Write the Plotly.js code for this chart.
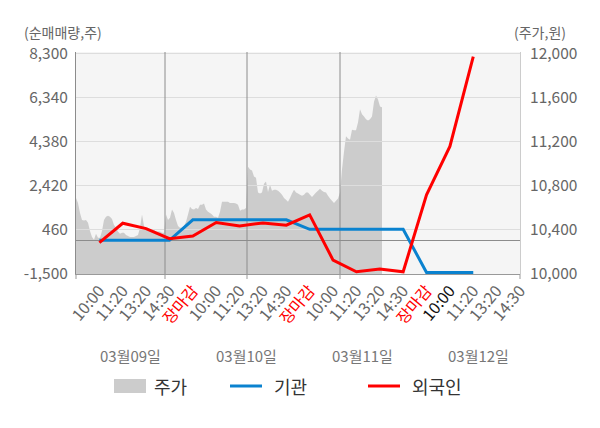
<!DOCTYPE html>
<html>
<head>
<meta charset="utf-8">
<script src="https://cdn.plot.ly/plotly-3.0.1.min.js"></script>
<style>
html,body{margin:0;padding:0;background:#fff;}
#chart{width:600px;height:428px;}
</style>
</head>
<body>
<div id="chart"></div>
<script>
// ---------- data ----------
const timeLabels = ['10:00','11:20','13:20','14:30','장마감',
                    '10:00','11:20','13:20','14:30','장마감',
                    '10:00','11:20','13:20','14:30','장마감',
                    '10:00','11:20','13:20','14:30'];
const dayLabels = ['03월09일','03월10일','03월11일','03월12일'];

// net buying volume (shares)
const institution = [0, 0, 0, 0, 910, 910, 910, 910, 910, 490, 490, 490, 490, 490, -1430, -1430, -1430];
const foreigner   = [-100, 760, 520, 70, 190, 790, 640, 770, 670, 1130, -880, -1400, -1280, -1400, 2020, 4180, 8170];

// stock price (won), intraday samples
const price = [
  10690,10645,10555,10490,10485,10490,10465,10390,10335,10310,10365,10330,10330,10390,10490,10520,10530,10520,10500,10445,
  10420,10385,10365,10375,10375,10355,10345,10335,10335,10335,10345,10355,10420,10540,10435,10400,10400,10390,10385,10400,
  10385,10385,10385,10375,10375,
  10540,10490,10510,10585,10555,10490,10435,10420,10420,10435,10475,10540,10610,10590,10585,10600,10590,10630,10630,10640,
  10585,10565,10555,10540,10520,10520,10510,10565,10655,10655,10655,10655,10645,10645,10645,10640,10630,10575,10585,10585,
  10600,
  10975,10950,10940,10885,10875,10740,10730,10740,10820,10840,10745,10810,10755,10765,10765,10755,10740,10720,10690,10675,
  10655,10690,10730,10765,10740,10730,10720,10710,10720,10740,10740,10720,10700,10720,10740,10755,10775,10755,10745,10740,
  10710,10685,10665,10645,10665,10685,10740,
  10950,11110,11250,11230,11220,11310,11305,11305,11375,11495,11450,11430,11405,11395,11405,11430,11565,11620,11585,11520,
  11515
];
// index in the price series where each new trading day begins
const priceDayBreaks = [44.5, 85.5, 132];

const leftTicks  = [-1500, 460, 2420, 4380, 6340, 8300];
const rightTicks = [10000, 10400, 10800, 11200, 11600, 12000];

// ---------- layout constants ----------
const FONT = '"Noto Sans CJK KR", "Noto Sans", sans-serif';
const PRICE_RANGE = [0, 222];
const CAT_RANGE = [-1, 18];
const LEFT_RANGE = [-1500, 8380];
const RIGHT_RANGE = [10000, 12016];
const priceToCat = v => CAT_RANGE[0] + (v - PRICE_RANGE[0]) * (CAT_RANGE[1] - CAT_RANGE[0]) / (PRICE_RANGE[1] - PRICE_RANGE[0]);
const priceToPaper = v => (v - PRICE_RANGE[0]) / (PRICE_RANGE[1] - PRICE_RANGE[0]);
const fmt = v => v.toLocaleString('en-US');

const tickText = timeLabels.map((t, i) => {
  let c = '#666666';
  if (t === '장마감') c = '#ff0000';
  else if (i === 15) c = '#111111';
  return '<span style="color:' + c + '">' + t + '</span>';
});

const traces = [
  {
    name: '주가', type: 'scatter', mode: 'none',
    x: price.map((_, i) => i), y: price,
    fill: 'tozeroy', fillcolor: '#cccccc',
    xaxis: 'x', yaxis: 'y', showlegend: false, hoverinfo: 'skip'
  },
  {
    name: '기관', type: 'scatter', mode: 'lines',
    x: institution.map((_, i) => i), y: institution,
    line: {color: '#0a82cf', width: 3},
    xaxis: 'x2', yaxis: 'y2', showlegend: false
  },
  {
    name: '외국인', type: 'scatter', mode: 'lines',
    x: foreigner.map((_, i) => i), y: foreigner,
    line: {color: '#ff0000', width: 3},
    xaxis: 'x2', yaxis: 'y2', showlegend: false
  }
];

const shapes = [];
// plot background (drawn under every subplot)
shapes.push({type: 'rect', xref: 'paper', yref: 'paper', x0: 0, x1: 1, y0: 0, y1: 1, layer: 'below',
             fillcolor: '#f5f5f5', line: {width: 0}});
priceDayBreaks.forEach(b => {
  shapes.push({type: 'line', xref: 'x2', yref: 'y2', x0: priceToCat(b), x1: priceToCat(b),
               y0: LEFT_RANGE[0], y1: LEFT_RANGE[1], layer: 'between',
               line: {color: '#8c8c8c', width: 1}});
});
[PRICE_RANGE[0]].concat(priceDayBreaks, [PRICE_RANGE[1]]).forEach(b => {
  shapes.push({type: 'line', xref: 'paper', yref: 'paper', x0: priceToPaper(b), x1: priceToPaper(b),
               y0: 0, y1: -5 / 222, line: {color: '#999999', width: 1}});
});
// legend symbols
shapes.push({type: 'rect', xref: 'paper', yref: 'paper', x0: 38/444, x1: 70/444, y0: -105/222, y1: -119/222,
             fillcolor: '#cccccc', line: {width: 0}});
shapes.push({type: 'line', xref: 'paper', yref: 'paper', x0: 154/444, x1: 186/444, y0: -112/222, y1: -112/222,
             line: {color: '#0a82cf', width: 3}});
shapes.push({type: 'line', xref: 'paper', yref: 'paper', x0: 292/444, x1: 324/444, y0: -112/222, y1: -112/222,
             line: {color: '#ff0000', width: 3}});

const annotations = [
  {text: '(순매매량,주)', xref: 'paper', yref: 'paper', x: -54/444, y: 242/222, xanchor: 'left', yanchor: 'middle',
   showarrow: false, font: {family: FONT, size: 14, color: '#666666'}},
  {text: '(주가,원)', xref: 'paper', yref: 'paper', x: 492/444, y: 242/222, xanchor: 'right', yanchor: 'middle',
   showarrow: false, font: {family: FONT, size: 14, color: '#666666'}}
];
dayLabels.forEach((d, i) => {
  annotations.push({text: d, xref: 'paper', yref: 'paper', x: (54 + 116 * i) / 444, y: -81/222,
    xanchor: 'center', yanchor: 'middle', showarrow: false, font: {family: FONT, size: 15, color: '#777777'}});
});
const legendItems = [['주가', 76], ['기관', 196], ['외국인', 334]];
legendItems.forEach(([t, px]) => {
  annotations.push({text: t, xref: 'paper', yref: 'paper', x: px / 444, y: -112/222, xanchor: 'left', yanchor: 'middle',
    showarrow: false, font: {family: FONT, size: 18, color: '#333333'}});
});

const layout = {
  width: 600, height: 428,
  margin: {l: 76, r: 80, t: 52, b: 154, pad: 0},
  paper_bgcolor: '#ffffff',
  plot_bgcolor: 'rgba(0,0,0,0)',
  font: {family: FONT, color: '#666666'},
  showlegend: false,
  hovermode: false,
  xaxis: {
    domain: [0, 1], range: PRICE_RANGE, anchor: 'y',
    showgrid: false, zeroline: false, showline: false, showticklabels: false, ticks: '', fixedrange: true
  },
  yaxis: {
    range: RIGHT_RANGE, anchor: 'x', side: 'right',
    tickvals: rightTicks, ticktext: rightTicks.map(fmt),
    showgrid: false, zeroline: false, showline: true, linecolor: '#cccccc', linewidth: 1,
    ticks: '', ticklabelstandoff: 6,
    tickfont: {family: FONT, size: 15.5, color: '#666666'}, fixedrange: true
  },
  xaxis2: {
    domain: [0, 1], range: CAT_RANGE, anchor: 'y2',
    tickvals: timeLabels.map((_, i) => i), ticktext: tickText, tickangle: -50,
    tickfont: {family: FONT, size: 16, color: '#666666'},
    showgrid: false, zeroline: false, showline: true, linecolor: '#999999', linewidth: 1,
    ticks: '', fixedrange: true
  },
  yaxis2: {
    domain: [0, 1], range: LEFT_RANGE, anchor: 'x2', side: 'left',
    tickvals: leftTicks, ticktext: leftTicks.map(fmt),
    showgrid: true, gridcolor: '#dddddd', gridwidth: 1,
    zeroline: true, zerolinecolor: '#8c8c8c', zerolinewidth: 1,
    showline: true, linecolor: '#8c8c8c', linewidth: 1,
    ticks: '', ticklabelstandoff: 4,
    tickfont: {family: FONT, size: 15.5, color: '#666666'}, fixedrange: true
  },
  shapes: shapes,
  annotations: annotations
};

Plotly.newPlot('chart', traces, layout, {staticPlot: true, displayModeBar: false});
</script>
</body>
</html>
